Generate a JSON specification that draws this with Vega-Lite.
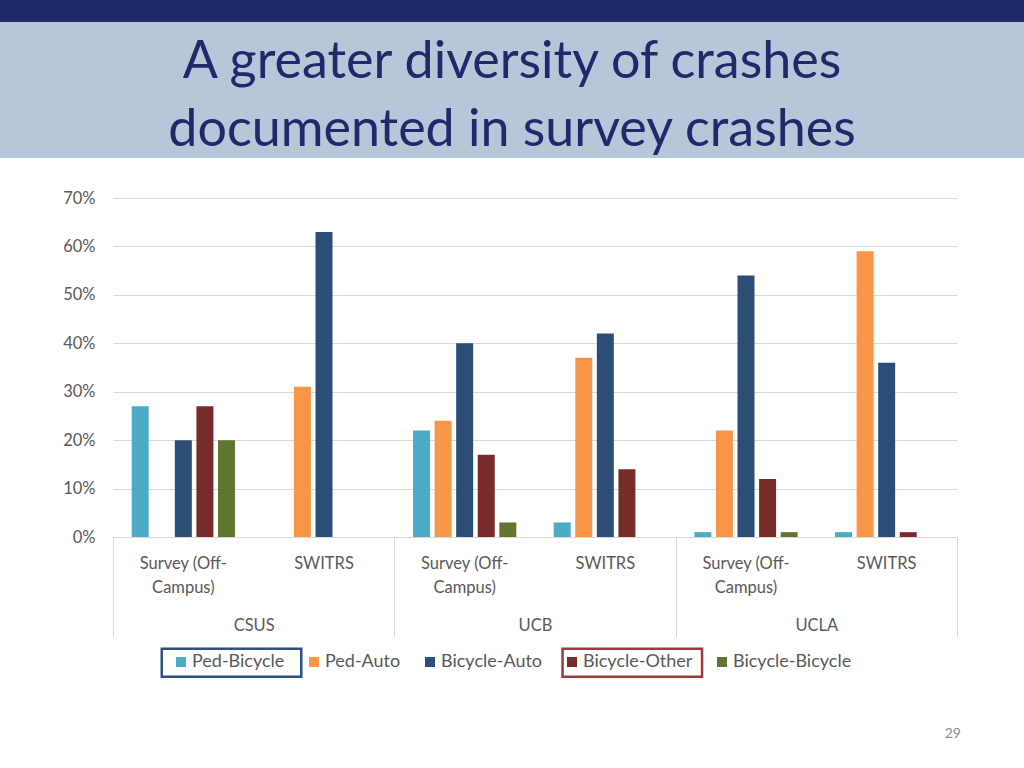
{
  "$schema": "https://vega.github.io/schema/vega-lite/v6.json",
  "padding": 0,
  "background": "white",
  "spacing": 0,
  "bounds": "flush",
  "config": {"font": "Lato", "view": {"stroke": null}},
  "vconcat": [
    {
      "width": 1024, "height": 22,
      "view": {"fill": "#1E2A69", "stroke": null},
      "data": {"values": []},
      "mark": "text",
      "encoding": {}
    },
    {
      "width": 1024, "height": 136,
      "view": {"fill": "#B9C5D8", "stroke": null},
      "data": {"values": [{"line": "A greater diversity of crashes"}, {"line": "documented in survey crashes"}]},
      "mark": {"type": "text", "align": "center", "baseline": "alphabetic", "font": "Lato", "fontSize": 52, "color": "#1F2A6B", "dy": 22},
      "encoding": {
        "text": {"field": "line"},
        "y": {"field": "line", "type": "nominal", "sort": null, "axis": null, "scale": {"type": "band", "paddingInner": 0, "paddingOuter": 0}}
      }
    },
    {
      "width": 1024, "height": 40,
      "data": {"values": []},
      "mark": "text",
      "encoding": {}
    },
    {
      "spacing": 0,
      "bounds": "flush",
      "hconcat": [
        {
          "width": 113, "height": 339,
          "data": {"values": []},
          "mark": "text",
          "encoding": {}
        },
        {
          "width": 844, "height": 339,
          "view": {"stroke": null},
          "title": {"text": "29", "orient": "bottom", "anchor": "end", "frame": "group", "fontSize": 14, "fontWeight": "normal", "color": "#8C8C8C", "font": "Lato", "offset": 89, "dx": 4},
          "data": {"values": [
            {"site": "CSUS", "key": "CSUS|Survey", "type": "Ped-Bicycle", "pct": 0.27},
            {"site": "CSUS", "key": "CSUS|Survey", "type": "Ped-Auto", "pct": 0},
            {"site": "CSUS", "key": "CSUS|Survey", "type": "Bicycle-Auto", "pct": 0.20},
            {"site": "CSUS", "key": "CSUS|Survey", "type": "Bicycle-Other", "pct": 0.27},
            {"site": "CSUS", "key": "CSUS|Survey", "type": "Bicycle-Bicycle", "pct": 0.20},
            {"site": "CSUS", "key": "CSUS|SWITRS", "type": "Ped-Bicycle", "pct": 0},
            {"site": "CSUS", "key": "CSUS|SWITRS", "type": "Ped-Auto", "pct": 0.31},
            {"site": "CSUS", "key": "CSUS|SWITRS", "type": "Bicycle-Auto", "pct": 0.63},
            {"site": "CSUS", "key": "CSUS|SWITRS", "type": "Bicycle-Other", "pct": 0},
            {"site": "CSUS", "key": "CSUS|SWITRS", "type": "Bicycle-Bicycle", "pct": 0},
            {"site": "UCB", "key": "UCB|Survey", "type": "Ped-Bicycle", "pct": 0.22},
            {"site": "UCB", "key": "UCB|Survey", "type": "Ped-Auto", "pct": 0.24},
            {"site": "UCB", "key": "UCB|Survey", "type": "Bicycle-Auto", "pct": 0.40},
            {"site": "UCB", "key": "UCB|Survey", "type": "Bicycle-Other", "pct": 0.17},
            {"site": "UCB", "key": "UCB|Survey", "type": "Bicycle-Bicycle", "pct": 0.03},
            {"site": "UCB", "key": "UCB|SWITRS", "type": "Ped-Bicycle", "pct": 0.03},
            {"site": "UCB", "key": "UCB|SWITRS", "type": "Ped-Auto", "pct": 0.37},
            {"site": "UCB", "key": "UCB|SWITRS", "type": "Bicycle-Auto", "pct": 0.42},
            {"site": "UCB", "key": "UCB|SWITRS", "type": "Bicycle-Other", "pct": 0.14},
            {"site": "UCB", "key": "UCB|SWITRS", "type": "Bicycle-Bicycle", "pct": 0},
            {"site": "UCLA", "key": "UCLA|Survey", "type": "Ped-Bicycle", "pct": 0.01},
            {"site": "UCLA", "key": "UCLA|Survey", "type": "Ped-Auto", "pct": 0.22},
            {"site": "UCLA", "key": "UCLA|Survey", "type": "Bicycle-Auto", "pct": 0.54},
            {"site": "UCLA", "key": "UCLA|Survey", "type": "Bicycle-Other", "pct": 0.12},
            {"site": "UCLA", "key": "UCLA|Survey", "type": "Bicycle-Bicycle", "pct": 0.01},
            {"site": "UCLA", "key": "UCLA|SWITRS", "type": "Ped-Bicycle", "pct": 0.01},
            {"site": "UCLA", "key": "UCLA|SWITRS", "type": "Ped-Auto", "pct": 0.59},
            {"site": "UCLA", "key": "UCLA|SWITRS", "type": "Bicycle-Auto", "pct": 0.36},
            {"site": "UCLA", "key": "UCLA|SWITRS", "type": "Bicycle-Other", "pct": 0.01},
            {"site": "UCLA", "key": "UCLA|SWITRS", "type": "Bicycle-Bicycle", "pct": 0}
          ]},
          "layer": [
            {
              "mark": {"type": "bar"},
              "encoding": {
                "x": {
                  "field": "key", "type": "nominal",
                  "sort": ["CSUS|Survey", "CSUS|SWITRS", "UCB|Survey", "UCB|SWITRS", "UCLA|Survey", "UCLA|SWITRS"],
                  "scale": {"paddingInner": 0, "paddingOuter": 0},
                  "axis": {
                    "orient": "bottom", "title": null, "labelAngle": 0,
                    "labelExpr": "indexof(datum.value, 'Survey') >= 0 ? ['Survey (Off-', 'Campus)'] : 'SWITRS'",
                    "labelFont": "Lato", "labelFontSize": 16.5, "labelColor": "#595959", "labelLineHeight": 24,
                    "labelPadding": 18, "ticks": false, "domain": true, "domainColor": "#D9D9D9", "domainWidth": 1, "grid": false
                  }
                },
                "xOffset": {
                  "field": "type", "type": "nominal",
                  "sort": ["Ped-Bicycle", "Ped-Auto", "Bicycle-Auto", "Bicycle-Other", "Bicycle-Bicycle"],
                  "scale": {"paddingInner": 0.213, "paddingOuter": 0.866}
                },
                "y": {
                  "field": "pct", "type": "quantitative",
                  "scale": {"domain": [0, 0.7], "nice": false, "zero": true},
                  "axis": {
                    "title": null, "values": [0, 0.1, 0.2, 0.3, 0.4, 0.5, 0.6, 0.7], "format": ".0%",
                    "labelFont": "Lato", "labelFontSize": 16.5, "labelColor": "#595959", "labelPadding": 18,
                    "domain": false, "ticks": false, "grid": true, "gridColor": "#D9D9D9", "gridWidth": 1
                  }
                },
                "color": {
                  "field": "type", "type": "nominal",
                  "scale": {
                    "domain": ["Ped-Bicycle", "Ped-Auto", "Bicycle-Auto", "Bicycle-Other", "Bicycle-Bicycle"],
                    "range": ["#4BACC6", "#F79646", "#2C4D75", "#772C2A", "#5F7530"]
                  },
                  "legend": {
                    "orient": "none", "legendX": 158, "legendY": 653, "direction": "horizontal", "title": null,
                    "padding": 0, "zindex": 2,
                    "symbolType": "square", "symbolSize": 100, "symbolStrokeWidth": 0, "symbolOffset": 14,
                    "labelFont": "Lato", "labelFontSize": 18, "labelColor": "#595959",
                    "labelOffset": 2, "columnPadding": 6
                  }
                }
              }
            },
            {
              "mark": {"type": "point", "opacity": 0, "filled": false},
              "encoding": {
                "x": {
                  "field": "site", "type": "nominal",
                  "sort": ["CSUS", "UCB", "UCLA"],
                  "scale": {"paddingInner": 0, "paddingOuter": 0},
                  "axis": {
                    "orient": "bottom", "title": null, "labelAngle": 0,
                    "labelFont": "Lato", "labelFontSize": 16.5, "labelColor": "#595959",
                    "domain": false, "grid": false, "ticks": true, "tickBand": "extent",
                    "tickSize": 100, "tickColor": "#D9D9D9", "tickWidth": 1, "labelPadding": -20
                  }
                },
                "stroke": {
                  "field": "type", "type": "nominal",
                  "sort": ["Ped-Bicycle", "Ped-Auto", "Bicycle-Auto", "Bicycle-Other", "Bicycle-Bicycle"],
                  "scale": {
                    "range": ["#2F5081", "transparent", "transparent", "#9E3A3C", "transparent"]
                  },
                  "legend": {
                    "orient": "none", "legendX": 225, "legendY": 656, "direction": "horizontal", "title": null,
                    "padding": 0, "zindex": 1,
                    "symbolType": "M-13.95,-2.8H13.95V2.8H-13.95Z",
                    "symbolSize": 100, "symbolOffset": 0, "symbolOpacity": 1,
                    "symbolFillColor": "transparent", "symbolStrokeWidth": 2.5,
                    "labelFontSize": 1, "labelOpacity": 0, "labelOffset": 0, "columnPadding": -17.4
                  }
                }
              }
            }
          ],
          "resolve": {"scale": {"x": "independent"}, "axis": {"x": "independent"}}
        }
      ]
    }
  ]
}
